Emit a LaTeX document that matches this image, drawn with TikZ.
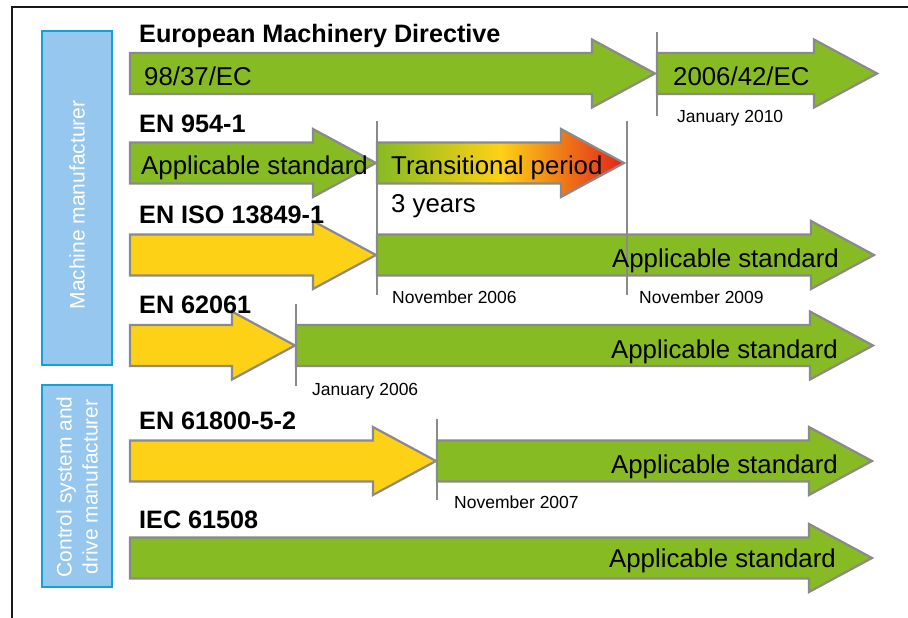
\documentclass[tikz,border=0pt]{standalone}
\usepackage{fontspec}
\setmainfont{Liberation Sans}
\usepackage{xcolor}
\definecolor{stdgreen}{HTML}{86BB23}
\definecolor{stdyellow}{HTML}{FDD116}
\definecolor{stdred}{HTML}{E2231A}
\definecolor{stdgray}{HTML}{8A8A8A}
\definecolor{boxblue}{HTML}{96C7EE}
\definecolor{boxedge}{HTML}{15A0D9}
\newcommand{\stdarrow}[4][fill=stdgreen]{\draw[outline, #1] (#2,#4-20.5) -- (#3-63,#4-20.5) -- (#3-63,#4-34) -- (#3,#4) -- (#3-63,#4+34) -- (#3-63,#4+20.5) -- (#2,#4+20.5) -- cycle;}

\begin{document}
\begin{tikzpicture}[x=1pt, y=-1pt,
  outline/.style={draw=stdgray, line width=2.2pt},
  marker/.style={stdgray, line width=2pt},
  sidebox/.style={draw=boxedge, fill=boxblue, line width=2pt},
  sidetext/.style={rotate=90, text=white, align=center, inner sep=0pt, font=\fontsize{21}{26}\selectfont},
  stdtitle/.style={anchor=base west, inner sep=0pt, font=\bfseries\fontsize{25.2}{30}\selectfont},
  bartext/.style={anchor=base west, inner sep=0pt, font=\fontsize{25.8}{30}\selectfont},
  datetext/.style={anchor=base west, inner sep=0pt, font=\fontsize{17.5}{21}\selectfont}]
\useasboundingbox (0,0) rectangle (908,618);
\draw[line width=1.3pt, black!90] (908,7) -- (12,7) -- (12,618);
\draw[sidebox] (42,31) rectangle (112,365);
\draw[sidebox] (42,385) rectangle (112,587);
\node[sidetext] (machine) at (77,205) {Machine manufacturer};
\node[sidetext] (control) at (77,487) {Control system and\\drive manufacturer};

\stdarrow{130}{655}{73.5}
\stdarrow{657}{877}{73.5}
\stdarrow{130}{376}{163}
\stdarrow[left color=stdgreen, right color=stdred, middle color=stdyellow]{377}{624}{163}
\stdarrow[fill=stdyellow]{130}{376}{255}
\stdarrow{377}{874}{255}
\stdarrow[fill=stdyellow]{130}{295}{345.5}
\stdarrow{296}{873}{345.5}
\stdarrow[fill=stdyellow]{130}{436}{461}
\stdarrow{437}{872}{461}
\stdarrow{130}{872}{558}

\draw[marker] (657,32) -- (657,116);
\draw[marker] (377,121) -- (377,295);
\draw[marker] (627,121) -- (627,295);
\draw[marker] (296,304) -- (296,386);
\draw[marker] (437,419) -- (437,500);

\node[stdtitle] (emd) at (139,43) {European Machinery Directive};
\node[bartext] (old) at (144,85) {98/37/EC};
\node[bartext] (new) at (673,85) {2006/42/EC};
\node[datetext] (jan10) at (677,122) {January 2010};

\node[stdtitle] (en954) at (139,132) {EN 954-1};
\node[bartext] (app954) at (141,174) {Applicable standard};
\node[bartext] (trans) at (391,174) {Transitional period};
\node[bartext] (three) at (391,212) {3 years};

\node[stdtitle] (iso) at (139,223) {EN ISO 13849-1};
\node[bartext, anchor=base east] (appiso) at (839,267) {Applicable standard};
\node[datetext] (nov06) at (392,303) {November 2006};
\node[datetext] (nov09) at (639,303) {November 2009};

\node[stdtitle] (en62) at (139,313) {EN 62061};
\node[bartext, anchor=base east] (app62) at (838,358) {Applicable standard};
\node[datetext] (jan06) at (312,395) {January 2006};

\node[stdtitle] (en618) at (139,429) {EN 61800-5-2};
\node[bartext, anchor=base east] (app618) at (838,473) {Applicable standard};
\node[datetext] (nov07) at (454,508) {November 2007};

\node[stdtitle] (iec) at (139,528) {IEC 61508};
\node[bartext, anchor=base east] (appiec) at (836,567) {Applicable standard};
\end{tikzpicture}
\end{document}
